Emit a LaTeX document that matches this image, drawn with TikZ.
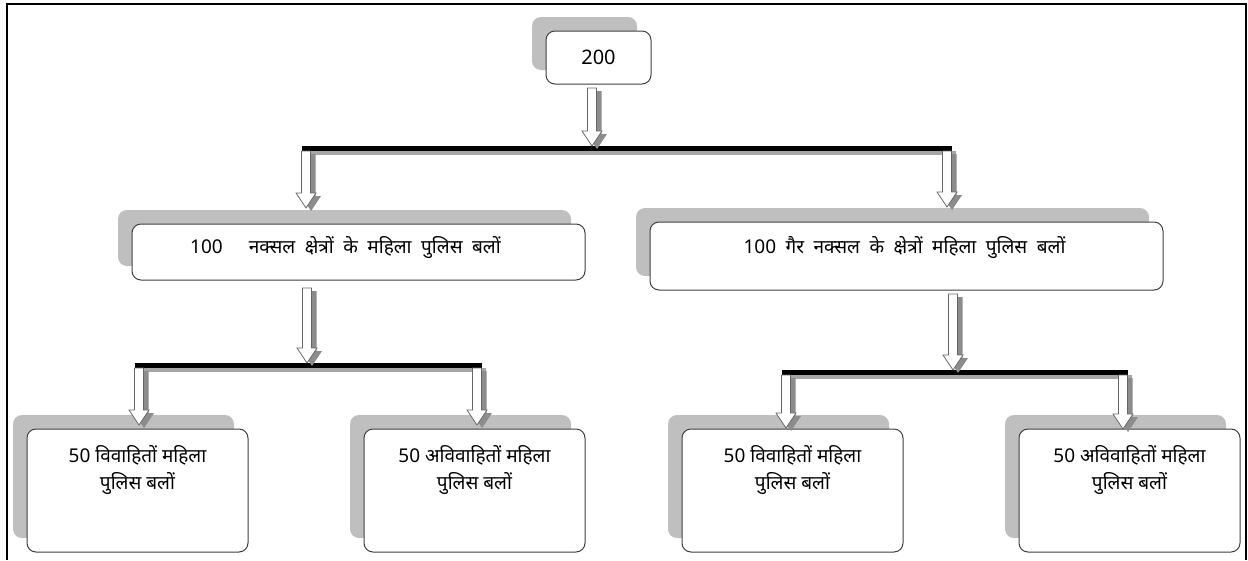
\documentclass[tikz,border=0pt]{standalone}
\usepackage{fontspec}
\setmainfont{Noto Sans}[Script=Devanagari]
\usetikzlibrary{calc,shadows,positioning}
\newcommand{\widespace}{\spaceskip 9.5pt\relax}

\begin{document}
\begin{tikzpicture}[x=1pt,y=-1pt,
  box/.style={draw=black!75, line width=1pt, rounded corners=9pt, fill=white,
    drop shadow={shadow xshift=-14pt, shadow yshift=14pt, fill=gray!50, opacity=1}},
  midtxt/.style={font=\fontsize{19}{22}\selectfont\widespace},
  lowtxt/.style={align=center, anchor=north, font=\fontsize{19}{27}\selectfont},
  hollow/.style={draw=black!60, line width=0.8pt, fill=white,
    drop shadow={shadow xshift=5pt, shadow yshift=-3pt, fill=gray!90, opacity=1},
    to path={($(\tikztostart)+(-4.5,0)$) -- ($(\tikztotarget)+(-4.5,-15)$)
      -- ($(\tikztotarget)+(-10,-15)$) -- (\tikztotarget) -- ($(\tikztotarget)+(10,-15)$)
      -- ($(\tikztotarget)+(4.5,-15)$) -- ($(\tikztostart)+(4.5,0)$) -- cycle}},
  bar/.style={line width=5pt, black},
  barshadow/.style={line width=4pt, gray!70},
]
\useasboundingbox (0,0) rectangle (1248,560);
\draw[line width=2pt] (7,560) -- (7,4) -- (1246,4) -- (1246,560);

% boxes
\node[box, minimum width=105, minimum height=53, font=\fontsize{20}{24}\selectfont] (total) at (598.5,57.5) {200};
\node[box, minimum width=453, minimum height=56] (naxal) at (358.5,252) {};
\node[box, minimum width=513, minimum height=68] (nonnaxal) at (906.5,256) {};
\node[box, minimum width=221, minimum height=123] (n-wed) at (137.5,490.5) {};
\node[box, minimum width=221, minimum height=123] (n-unwed) at (474.5,490.5) {};
\node[box, minimum width=221, minimum height=123] (g-wed) at (792.5,490.5) {};
\node[box, minimum width=221, minimum height=123] (g-unwed) at (1129.5,490.5) {};

\node[midtxt] (naxal-t) at ([xshift=-13pt,yshift=-24pt]naxal.north) {100\hspace{26pt}नक्सल क्षेत्रों के महिला पुलिस बलों};
\node[midtxt] (nonnaxal-t) at ([xshift=-2pt,yshift=-26pt]nonnaxal.north) {100 गैर नक्सल के क्षेत्रों महिला पुलिस बलों};
\node[lowtxt] (n-wed-t) at ([yshift=-13pt]n-wed.north) {50 विवाहितों महिला\\पुलिस बलों};
\node[lowtxt] (n-unwed-t) at ([yshift=-13pt]n-unwed.north) {50 अविवाहितों महिला\\पुलिस बलों};
\node[lowtxt] (g-wed-t) at ([yshift=-13pt]g-wed.north) {50 विवाहितों महिला\\पुलिस बलों};
\node[lowtxt] (g-unwed-t) at ([yshift=-13pt]g-unwed.north) {50 अविवाहितों महिला\\पुलिस बलों};

% bar ends and arrow ends
\coordinate (total-out) at (592,88);
\coordinate (tb-m) at (592,146);
\coordinate (tb-l) at (306,151);
\coordinate (tb-r) at (947,151);
\coordinate (naxal-in) at (306,208);
\coordinate (nonnaxal-in) at (947,207);
\coordinate (naxal-out) at (307,288);
\coordinate (lb-m) at (307,363);
\coordinate (lb-l) at (139,368);
\coordinate (lb-r) at (477,368);
\coordinate (nonnaxal-out) at (953,294);
\coordinate (rb-m) at (953,370);
\coordinate (rb-l) at (786,375);
\coordinate (rb-r) at (1123,375);
\coordinate (n-wed-in) at (139,425);
\coordinate (n-unwed-in) at (477,425);
\coordinate (g-wed-in) at (786,428);
\coordinate (g-unwed-in) at (1123,429);

\foreach \l/\r in {tb-l/tb-r, lb-l/lb-r, rb-l/rb-r}{
  \draw[barshadow] ([xshift=0pt,yshift=-2pt]\l) -- ([xshift=9pt,yshift=-2pt]\r);
  \draw[bar] ([xshift=-4.5pt,yshift=2.5pt]\l) -- ([xshift=4.5pt,yshift=2.5pt]\r);
}

\draw[hollow] (total-out) to (tb-m);
\draw[hollow] (tb-l) to (naxal-in);
\draw[hollow] (tb-r) to (nonnaxal-in);
\draw[hollow] (naxal-out) to (lb-m);
\draw[hollow] (lb-l) to (n-wed-in);
\draw[hollow] (lb-r) to (n-unwed-in);
\draw[hollow] (nonnaxal-out) to (rb-m);
\draw[hollow] (rb-l) to (g-wed-in);
\draw[hollow] (rb-r) to (g-unwed-in);

\end{tikzpicture}
\end{document}
